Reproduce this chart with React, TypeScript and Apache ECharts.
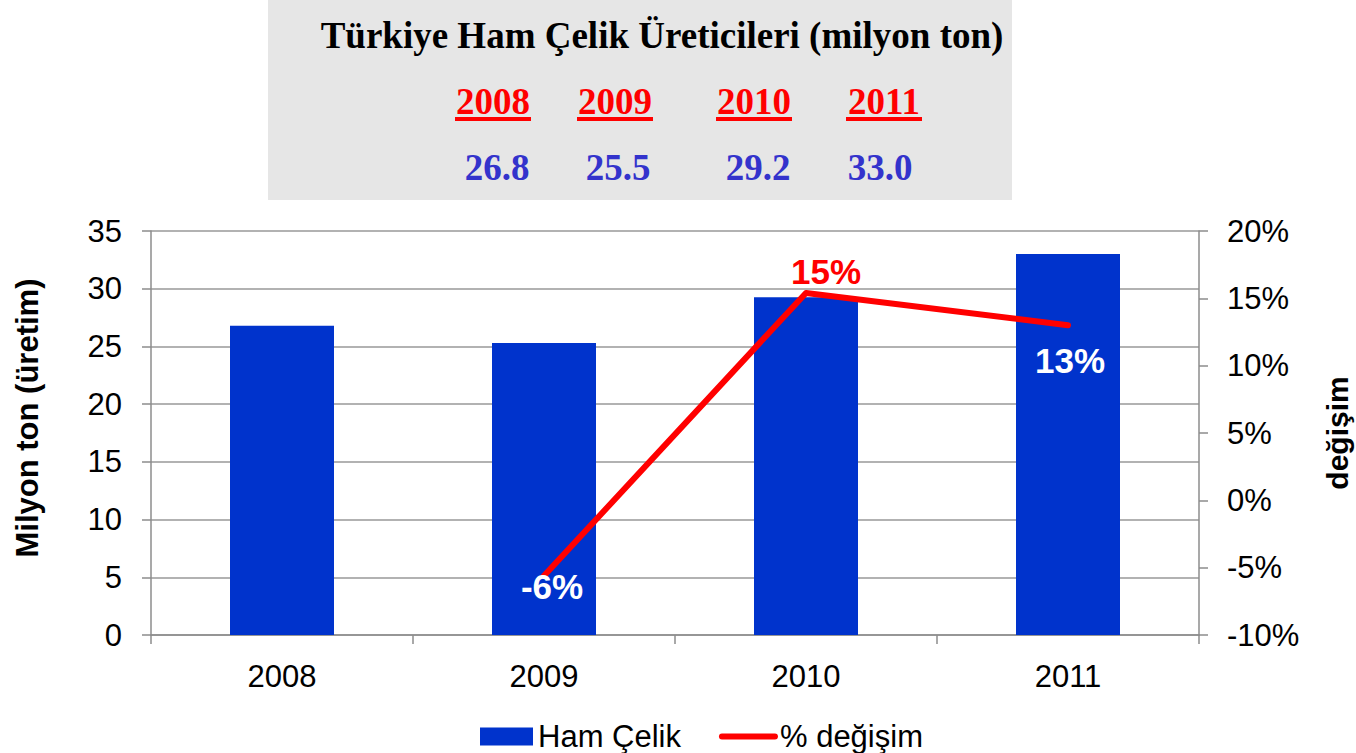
import React, { useEffect, useRef } from "react";
import * as echarts from "echarts";

const categories = ["2008", "2009", "2010", "2011"];
const production = [26.8, 25.3, 29.25, 33.0];
const change: (number | null)[] = [null, -5.6, 15.4, 13.0];
const headerYears = ["2008", "2009", "2010", "2011"];
const headerValues = ["26.8", "25.5", "29.2", "33.0"];
const leftTicks = { min: 0, max: 35, interval: 5 };
const rightTicks = { min: -10, max: 20, interval: 5 };

// styling / layout (not data)
const yearCenters = [493, 615, 754, 884];
const valueCenters = [497, 618, 758, 880];
const changeLabelStyle = [
  null,
  { color: "#ffffff", offset: [8, 11] },
  { color: "#ff0000", offset: [20, -21] },
  { color: "#ffffff", offset: [2, 35] },
];

const SANS = '"Liberation Sans", Arial, sans-serif';
const SERIF = '"Liberation Serif", "Times New Roman", serif';
const AXIS_GRAY = "#8c8c8c";

export default function App() {
  const ref = useRef<HTMLDivElement>(null);

  useEffect(() => {
    if (!ref.current) return;
    const chart = echarts.init(ref.current, undefined, { renderer: "svg" });

    const textStyle = (text: string, font: string, fill: string) => ({
      text,
      font,
      fill,
      align: "center",
      verticalAlign: "middle",
      textAlign: "center",
      textVerticalAlign: "middle",
    });

    const graphic: any[] = [
      {
        type: "rect",
        shape: { x: 268, y: 0, width: 744, height: 200 },
        style: { fill: "#e6e6e6" },
        z: -1,
      },
      {
        type: "text",
        x: 662,
        y: 35,
        style: textStyle("Türkiye Ham Çelik Üreticileri (milyon ton)", `bold 37px ${SERIF}`, "#000"),
      },
    ];
    headerYears.forEach((y, i) => {
      graphic.push({
        type: "text",
        x: yearCenters[i],
        y: 101,
        style: textStyle(y, `bold 37px ${SERIF}`, "#ff0000"),
      });
      graphic.push({
        type: "rect",
        shape: { x: yearCenters[i] - 38, y: 117, width: 76, height: 4 },
        style: { fill: "#ff0000" },
      });
    });
    headerValues.forEach((v, i) => {
      graphic.push({
        type: "text",
        x: valueCenters[i],
        y: 167,
        style: textStyle(v, `bold 37px ${SERIF}`, "#3333cc"),
      });
    });
    graphic.push({
      type: "text",
      x: 27,
      y: 418,
      rotation: Math.PI / 2,
      style: textStyle("Milyon ton (üretim)", `bold 31px ${SANS}`, "#000"),
    });
    graphic.push({
      type: "text",
      x: 1337,
      y: 433,
      rotation: Math.PI / 2,
      style: textStyle("değişim", `bold 30px ${SANS}`, "#000"),
    });

    const axisLabelBase = { color: "#000", fontFamily: SANS, fontSize: 31 };

    chart.setOption({
      animation: false,
      backgroundColor: "#ffffff",
      graphic,
      grid: {
        left: 151,
        right: 157,
        top: 231,
        bottom: 118,
        containLabel: false,
        outerBoundsMode: "none",
      },
      legend: {
        left: 475,
        top: 716,
        itemWidth: 53,
        itemHeight: 18,
        itemGap: 38,
        textStyle: { color: "#000", fontFamily: SANS, fontSize: 31 },
        data: [
          { name: "Ham Çelik", icon: "rect" },
          {
            name: "% değişim",
            itemStyle: { opacity: 0 },
            lineStyle: { width: 6, color: "#ff0000", cap: "round" },
          },
        ],
      },
      xAxis: {
        type: "category",
        data: categories,
        boundaryGap: true,
        axisLine: { lineStyle: { color: AXIS_GRAY, width: 1.5 } },
        axisTick: { show: true, length: 9, inside: false, alignWithLabel: false, lineStyle: { color: AXIS_GRAY, width: 1.5 } },
        axisLabel: { ...axisLabelBase, margin: 26 },
        splitLine: { show: false },
      },
      yAxis: [
        {
          type: "value",
          min: leftTicks.min,
          max: leftTicks.max,
          interval: leftTicks.interval,
          position: "left",
          axisLine: { show: true, lineStyle: { color: AXIS_GRAY, width: 1.5 } },
          axisTick: { show: true, length: 9, lineStyle: { color: AXIS_GRAY, width: 1.5 } },
          axisLabel: { ...axisLabelBase, margin: 29 },
          splitLine: { show: true, lineStyle: { color: "#999999", width: 1.5 } },
        },
        {
          type: "value",
          min: rightTicks.min,
          max: rightTicks.max,
          interval: rightTicks.interval,
          position: "right",
          axisLine: { show: true, lineStyle: { color: AXIS_GRAY, width: 1.5 } },
          axisTick: { show: true, length: 9, lineStyle: { color: AXIS_GRAY, width: 1.5 } },
          axisLabel: { ...axisLabelBase, margin: 28, formatter: "{value}%" },
          splitLine: { show: false },
        },
      ],
      series: [
        {
          type: "bar",
          name: "Ham Çelik",
          data: production,
          barWidth: 104,
          yAxisIndex: 0,
          itemStyle: { color: "#0033cc" },
          z: 2,
        },
        {
          type: "line",
          name: "% değişim",
          data: change,
          yAxisIndex: 1,
          symbol: "none",
          lineStyle: { color: "#ff0000", width: 6, cap: "round", join: "round" },
          itemStyle: { color: "#ff0000" },
          z: 3,
        },
        {
          type: "scatter",
          name: "labels",
          yAxisIndex: 1,
          symbolSize: 0,
          silent: true,
          z: 4,
          itemStyle: { opacity: 1, color: "#ff0000" },
          data: change.map((v, i) =>
            v == null
              ? null
              : {
                  value: v,
                  label: {
                    color: (changeLabelStyle[i] as any).color,
                    offset: (changeLabelStyle[i] as any).offset,
                  },
                }
          ),
          label: {
            show: true,
            position: "inside",
            fontFamily: SANS,
            fontWeight: "bold",
            fontSize: 35,
            opacity: 1,
            formatter: (p: any) => Math.round(p.value) + "%",
          },
        },
      ],
    });

    return () => chart.dispose();
  }, []);

  return (
    <div
      ref={ref}
      style={{ position: "fixed", left: 0, top: 0, width: 1356, height: 753 }}
    />
  );
}
